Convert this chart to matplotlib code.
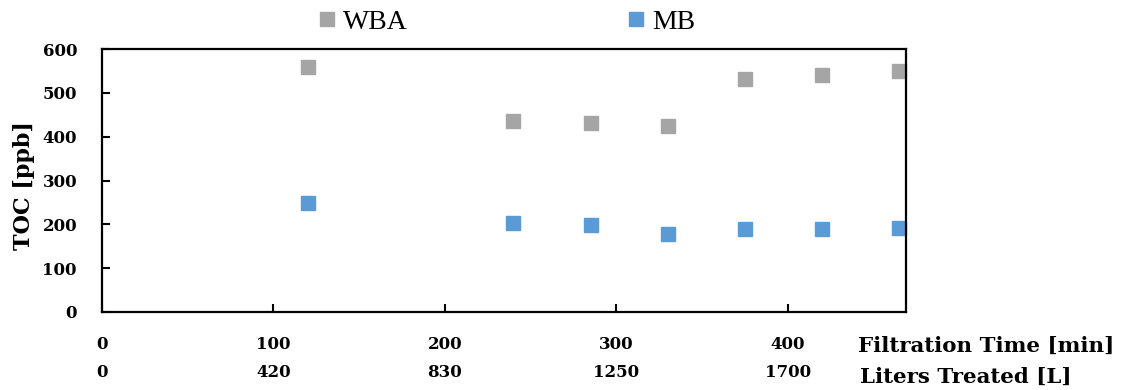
import matplotlib
matplotlib.use("Agg")
import matplotlib.pyplot as plt

time_min = [120, 240, 285, 330, 375, 420, 465]
wba = [559, 436, 431, 425, 532, 541, 550]
mb = [249, 204, 199, 178, 189, 190, 191]

xticks = [0, 100, 200, 300, 400]
liters = ["0", "420", "830", "1250", "1700"]
yticks = [0, 100, 200, 300, 400, 500, 600]

plt.rcParams['font.family'] = ['DejaVu Serif']

fig = plt.figure(figsize=(11.21, 3.9), dpi=100)
ax = fig.add_axes([102/1121, 1-312/390, (906-102)/1121, (312-49)/390])

ax.plot(time_min, wba, 's', color='#A5A5A5', markersize=10, label='WBA', clip_on=False)
ax.plot(time_min, mb, 's', color='#5B9BD5', markersize=10, label='MB', clip_on=False)

ax.set_xlim(0, 469)
ax.set_ylim(0, 600)
ax.set_yticks(yticks)
ax.set_xticks(xticks)
ax.set_xticklabels([f"{t}\n{l}" for t, l in zip(xticks, liters)], linespacing=1.85)
for lab in ax.get_xticklabels() + ax.get_yticklabels():
    lab.set_fontweight('bold')
    lab.set_fontsize(12)
ax.tick_params(axis='x', direction='in', length=6, width=1.5, pad=17)
ax.tick_params(axis='y', direction='in', length=6, width=1.5, pad=18)
for s in ax.spines.values():
    s.set_linewidth(1.6)
    s.set_color('black')

ax.set_ylabel('TOC [ppb]', fontsize=16, fontweight='bold')
ax.yaxis.set_label_coords((35-102)/804, (312-186)/263)

fig.text(858/1121, 1-346/390, 'Filtration Time [min]', fontsize=15.4, fontweight='bold', va='center', ha='left')
fig.text(860/1121, 1-377/390, 'Liters Treated [L]', fontsize=15.4, fontweight='bold', va='center', ha='left')

leg = fig.legend(loc='center', bbox_to_anchor=(507/1121, 1-22/390), ncol=2, frameon=False,
                 prop={'family': 'Liberation Serif', 'size': 20},
                 handlelength=0.6, handletextpad=0.3, columnspacing=7.9, borderpad=0)

fig.savefig('out.png', dpi=100)
